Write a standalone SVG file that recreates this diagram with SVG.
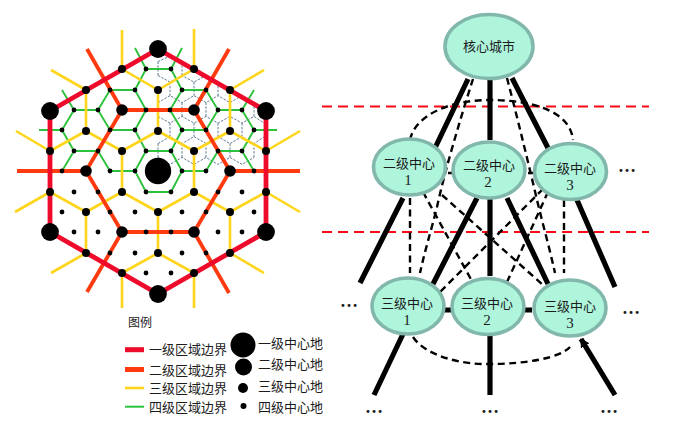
<svg xmlns="http://www.w3.org/2000/svg" width="679" height="426" viewBox="0 0 679 426">
<style>
text{font-family:"Liberation Serif","Noto Sans CJK SC",serif;fill:#1c1c1c;font-size:13px}
.m{text-anchor:middle}
.dg{font-size:15px}
.el{font-size:18px;font-weight:bold;text-anchor:middle}
.l1{fill:none;stroke:#ee0a2a;stroke-width:4.8;stroke-linejoin:round}
.l2{fill:none;stroke:#ff3a0f;stroke-width:3.8;stroke-linejoin:round}
.l3{fill:none;stroke:#ffd51c;stroke-width:2.6;stroke-linejoin:round}
.l4{fill:none;stroke:#2cc23c;stroke-width:1.9;stroke-linejoin:round}
.l5{fill:none;stroke:#5f7a92;stroke-width:1;stroke-dasharray:2.4 1.4}
.n1,.n2,.n3,.n4,.n0{fill:#000}
.n0{r:13.2px}.n1{r:8.9px}.n2{r:5.8px}.n3{r:4px}.n4{r:2.4px}
.e{fill:#aef5dc;stroke:#82b8ac;stroke-width:3.6}
.t{stroke:#000;stroke-width:5.2;fill:none}
.d{stroke:#000;stroke-width:2.4;stroke-dasharray:7 4.5;fill:none}
.r{stroke:#ff0a14;stroke-width:2;stroke-dasharray:10 6;fill:none}
</style>
<defs>
<marker id="arr" markerUnits="userSpaceOnUse" markerWidth="12" markerHeight="12" refX="8" refY="5" orient="auto"><path d="M0,0L9,5L0,10z" fill="#000"/></marker>
</defs>
<g id="region-map">
<g id="level5-boundaries" class="l5">
<path d="M158,157.4L170,164.4L182,157.4L194,164.4L206,157.4L218,164.4L230,157.4L242,164.4L254,157.4"/>
<path d="M158,143.6L170,136.6L182,143.6L194,136.6L206,143.6L218,136.6L230,143.6L242,136.6L254,143.6L264,137"/>
<path d="M158,116.4L170,123.1L182,116.4L194,123.1L206,116.4L218,123.1L230,116.4L242,123.1L254,116.4L264,123"/>
<path d="M158,102.6L170,95.6L182,102.6L194,95.6L206,102.6L218,95.6L230,102.6L242,95.6L254,102.6"/>
<path d="M158,75.4L170,82.1L182,75.4L194,82.1L206,75.4L218,82.1L230,92"/>
<path d="M158,61.6L170,56L182,61.6"/>
<path d="M158,143.6V157.4M182,143.6V157.4M206,143.6V157.4M230,143.6V157.4M254,143.6V157.4M170,123.1V136.6M194,123.1V136.6M218,123.1V136.6M242,123.1V136.6M158,102.6V116.4M182,102.6V116.4M206,102.6V116.4M230,102.6V116.4M254,102.6V116.4M170,82.1V95.6M194,82.1V95.6M218,82.1V95.6M158,61.6V75.4M182,61.6V75.4"/>
</g>
<path id="level4-boundaries" class="l4" d="M135,48L146,69H171L182,48M146,69L135,90H110L98,110H74L62,90M74,110L62,130H39M62,130L74,151H98L110,130L98,110M110,130H135L146,110M135,90L146,110M135,130L146,151H171L182,130L170,110L182,90H206L218,110L206,130H182M171,69L182,90M218,110H242L254,90M242,110L254,130H277M254,130L242,151H218L206,130M218,151L206,171H182L171,151M98,151L110,171H135L146,151M74,151L62,171M135,171L146,192H171L182,171M242,151L254,171"/>
<path id="level3-boundaries" class="l3" d="M122,30V69L158,90L194,69V29M194,69M230,90L264,70M230,90V131L266,151L300,131M51,70L86,90V131L50,151L16,131M86,131L122,151L158,131V90M158,131L194,151L230,131M122,151V192M194,151V192M15,212L50,192L86,212L122,192L158,212L194,192L230,212L266,192L300,212M86,212V253L51,273M86,253L122,273V308M158,212V253L122,273M158,253L194,273V308M230,212V253L264,273M230,253L194,273"/>
<path id="level2-boundaries" class="l2" d="M122,110H194L230,171L194,232H122L86,171ZM122,110L87,49M194,110L229,49M230,171H300M194,232L229,293M122,232L87,292M86,171H17"/>
<path id="level1-boundaries" class="l1" d="M158,49L266,111V232L158,294L50,232V111Z"/>
<g id="level4-centres">
<circle class="n4" cx="146" cy="69"/><circle class="n4" cx="171" cy="69"/><circle class="n4" cx="110" cy="90"/><circle class="n4" cx="135" cy="90"/><circle class="n4" cx="182" cy="90"/><circle class="n4" cx="206" cy="90"/><circle class="n4" cx="74" cy="110"/><circle class="n4" cx="98" cy="110"/><circle class="n4" cx="146" cy="110"/><circle class="n4" cx="170" cy="110"/><circle class="n4" cx="218" cy="110"/><circle class="n4" cx="242" cy="110"/><circle class="n4" cx="62" cy="130"/><circle class="n4" cx="110" cy="130"/><circle class="n4" cx="135" cy="130"/><circle class="n4" cx="182" cy="130"/><circle class="n4" cx="206" cy="130"/><circle class="n4" cx="254" cy="130"/><circle class="n4" cx="74" cy="151"/><circle class="n4" cx="98" cy="151"/><circle class="n4" cx="146" cy="151"/><circle class="n4" cx="171" cy="151"/><circle class="n4" cx="218" cy="151"/><circle class="n4" cx="242" cy="151"/><circle class="n4" cx="62" cy="171"/><circle class="n4" cx="110" cy="171"/><circle class="n4" cx="135" cy="171"/><circle class="n4" cx="182" cy="171"/><circle class="n4" cx="206" cy="171"/><circle class="n4" cx="254" cy="171"/><circle class="n4" cx="74" cy="192"/><circle class="n4" cx="98" cy="192"/><circle class="n4" cx="146" cy="192"/><circle class="n4" cx="171" cy="192"/><circle class="n4" cx="218" cy="192"/><circle class="n4" cx="242" cy="192"/><circle class="n4" cx="62" cy="212"/><circle class="n4" cx="110" cy="212"/><circle class="n4" cx="135" cy="212"/><circle class="n4" cx="182" cy="212"/><circle class="n4" cx="206" cy="212"/><circle class="n4" cx="254" cy="212"/><circle class="n4" cx="74" cy="232"/><circle class="n4" cx="98" cy="232"/><circle class="n4" cx="146" cy="232"/><circle class="n4" cx="171" cy="232"/><circle class="n4" cx="218" cy="232"/><circle class="n4" cx="242" cy="232"/><circle class="n4" cx="110" cy="253"/><circle class="n4" cx="135" cy="253"/><circle class="n4" cx="182" cy="253"/><circle class="n4" cx="206" cy="253"/><circle class="n4" cx="146" cy="273"/><circle class="n4" cx="171" cy="273"/>
</g>
<g id="level3-centres">
<circle class="n3" cx="122" cy="69"/><circle class="n3" cx="194" cy="69"/><circle class="n3" cx="86" cy="90"/><circle class="n3" cx="158" cy="90"/><circle class="n3" cx="230" cy="90"/><circle class="n3" cx="86" cy="131"/><circle class="n3" cx="158" cy="131"/><circle class="n3" cx="230" cy="131"/><circle class="n3" cx="50" cy="151"/><circle class="n3" cx="122" cy="151"/><circle class="n3" cx="194" cy="151"/><circle class="n3" cx="266" cy="151"/><circle class="n3" cx="50" cy="192"/><circle class="n3" cx="122" cy="192"/><circle class="n3" cx="194" cy="192"/><circle class="n3" cx="266" cy="192"/><circle class="n3" cx="86" cy="212"/><circle class="n3" cx="158" cy="212"/><circle class="n3" cx="230" cy="212"/><circle class="n3" cx="86" cy="253"/><circle class="n3" cx="158" cy="253"/><circle class="n3" cx="230" cy="253"/><circle class="n3" cx="122" cy="273"/><circle class="n3" cx="194" cy="273"/>
</g>
<g id="level2-centres">
<circle class="n2" cx="122" cy="110"/><circle class="n2" cx="194" cy="110"/><circle class="n2" cx="230" cy="171"/><circle class="n2" cx="194" cy="232"/><circle class="n2" cx="122" cy="232"/><circle class="n2" cx="86" cy="171"/>
</g>
<g id="level1-centres">
<circle class="n0" cx="158" cy="171"/><circle class="n1" cx="158" cy="49"/><circle class="n1" cx="50" cy="111"/><circle class="n1" cx="266" cy="111"/><circle class="n1" cx="50" cy="232"/><circle class="n1" cx="266" cy="232"/><circle class="n1" cx="158" cy="294"/>
</g>
</g>
<g id="legend">
<text x="128" y="327" style="font-size:12px">图例</text>
<path class="l1" d="M125,349.7H144" style="stroke-width:5"/>
<path class="l2" d="M125,369.5H144" style="stroke-width:5"/>
<path class="l3" d="M125,388H144" style="stroke-width:2.6"/>
<path class="l4" d="M125,406.7H144" style="stroke-width:2"/>
<text x="149" y="354">一级区域边界</text>
<text x="149" y="375">二级区域边界</text>
<text x="149" y="393">三级区域边界</text>
<text x="149" y="412">四级区域边界</text>
<circle cx="243" cy="345" r="12.5"/><circle cx="243.5" cy="367" r="8.5"/><circle cx="243" cy="388" r="5"/><circle cx="243.5" cy="406" r="3"/>
<text x="258" y="348">一级中心地</text>
<text x="258" y="369">二级中心地</text>
<text x="258" y="391">三级中心地</text>
<text x="258" y="412">四级中心地</text>
</g>
<g id="connectors">
<path class="r" d="M322,106.500H649M322,232H649"/>
<path class="t" d="M468,79L435,148M490,79V140M512,78L548,148M403,198L360,283M477,198L433,284M490,199V276M507,198L548,284M577,200L615,287M403,334L374,395M490,334V395M443,310H452M524,310H532"/>
<path class="t" d="M615,395L581,339" marker-end="url(#arr)"/>
<path class="d" d="M410,140C415,115 450,100 490,100C530,100 570,110 573,140"/>
<path class="d" d="M473,79C460,120 445,170 437,207C430,235 425,250 420,273"/>
<path class="d" d="M507,78C518,120 530,170 537,200C543,225 550,250 555,273"/>
<path class="d" d="M410,198V273M564,200V273M423,192L473,283M442,195L543,285M543,189L437,295M548,192L507,282M448,173H452M528,173H533"/>
<path class="d" d="M413,337C425,355 460,365 490,364C525,364 560,358 570,347"/>
</g>
<g id="core"><ellipse class="e" cx="489" cy="46.500" rx="44" ry="32"/><text class="m" x="489" y="51">核心城市</text></g>
<g id="l2-1"><ellipse class="e" cx="409.500" cy="167" rx="36" ry="28"/><text class="m" x="409" y="168">二级中心</text><text class="m dg" x="408" y="185">1</text></g>
<g id="l2-2"><ellipse class="e" cx="489" cy="170" rx="36" ry="28"/><text class="m" x="489" y="170">二级中心</text><text class="m dg" x="488" y="187">2</text></g>
<g id="l2-3"><ellipse class="e" cx="570.500" cy="171.500" rx="36" ry="28"/><text class="m" x="570" y="173">二级中心</text><text class="m dg" x="570" y="190">3</text></g>
<g id="l3-1"><ellipse class="e" cx="408" cy="306" rx="36" ry="28"/><text class="m" x="407" y="308">三级中心</text><text class="m dg" x="407" y="325">1</text></g>
<g id="l3-2"><ellipse class="e" cx="488" cy="306.500" rx="36" ry="28"/><text class="m" x="487" y="308">三级中心</text><text class="m dg" x="487" y="325">2</text></g>
<g id="l3-3"><ellipse class="e" cx="570" cy="308" rx="36" ry="28"/><text class="m" x="570" y="311">三级中心</text><text class="m dg" x="570" y="328">3</text></g>
<g id="ellipses">
<text class="el" x="627" y="172">…</text>
<text class="el" x="349" y="307">…</text>
<text class="el" x="631" y="314">…</text>
<text class="el" x="374" y="413">…</text>
<text class="el" x="490" y="413">…</text>
<text class="el" x="609" y="413">…</text>
</g>
</svg>
